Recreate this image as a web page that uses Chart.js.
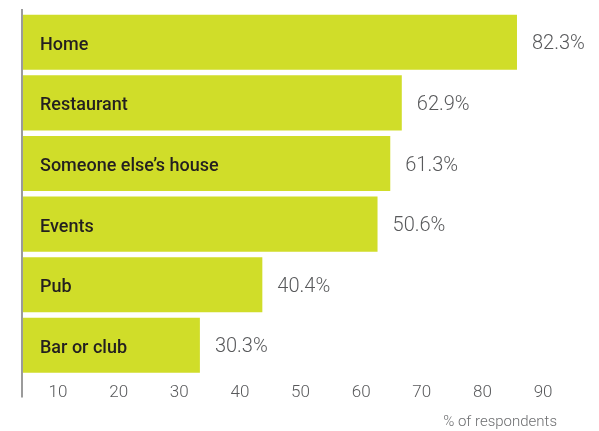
<!DOCTYPE html>
<html>
<head>
<meta charset="utf-8">
<script src="https://cdn.jsdelivr.net/npm/chart.js@4"></script>
<style>
    html, body { margin: 0; padding: 0; background: #ffffff; }
    canvas { display: block; }
</style>
</head>
<body>
<canvas id="placeChart" width="599" height="431"></canvas>
<script>
// Places where people drink - bar lengths read against the axis below
const categories = ["Home", "Restaurant", "Someone else\u2019s house", "Events", "Pub", "Bar or club"];
const barValues = [85.7, 66.7, 64.8, 62.7, 43.7, 33.4];
const valueLabels = ["82.3%", "62.9%", "61.3%", "50.6%", "40.4%", "30.3%"];
const tickValues = [10, 20, 30, 40, 50, 60, 70, 80, 90];
const axisTitle = "% of respondents";

const xMin = 4.06;
const xMax = 92.3;

// Draws category names inside bars, value labels after bars, and the left axis line
const barLabelsPlugin = {
    id: "barLabels",
    afterDatasetsDraw(chart) {
        const ctx = chart.ctx;
        const meta = chart.getDatasetMeta(0);
        const area = chart.chartArea;
        ctx.save();
        meta.data.forEach((bar, i) => {
            ctx.textBaseline = "middle";
            ctx.textAlign = "left";
            ctx.fillStyle = "#231f20";
            ctx.font = "500 18px Roboto";
            ctx.fillText(categories[i], area.left + 18, bar.y + 3);
            ctx.fillStyle = "#58595b";
            ctx.font = "300 20px Roboto";
            ctx.fillText(valueLabels[i], bar.x + 15, bar.y + 2);
        });
        // left axis line
        ctx.strokeStyle = "#9b9b9b";
        ctx.lineWidth = 2;
        ctx.beginPath();
        ctx.moveTo(area.left, area.top - 3);
        ctx.lineTo(area.left, area.bottom + 22);
        ctx.stroke();
        ctx.restore();
    }
};

const ctx = document.getElementById("placeChart").getContext("2d");
const placeChart = new Chart(ctx, {
    type: "bar",
    data: {
        labels: categories,
        datasets: [{
            data: barValues,
            base: xMin,
            backgroundColor: "#d0dd29",
            borderWidth: 0,
            barPercentage: 0.91,
            categoryPercentage: 1.0,
        }],
    },
    options: {
        indexAxis: "y",
        responsive: false,
        animation: false,
        layout: {
            padding: { left: 22, right: 42, top: 12, bottom: 0 },
        },
        plugins: {
            legend: { display: false },
            tooltip: { enabled: false },
        },
        scales: {
            y: {
                display: false,
            },
            x: {
                min: xMin,
                max: xMax,
                afterBuildTicks: (axis) => {
                    axis.ticks = tickValues.map((v) => ({ value: v }));
                },
                grid: { display: false, drawTicks: false },
                border: { display: false },
                ticks: {
                    padding: 7,
                    color: "#58595b",
                    font: { family: "Roboto", size: 17, weight: "300" },
                    callback: (value) => String(value),
                },
                title: {
                    display: true,
                    text: axisTitle,
                    align: "end",
                    color: "#6d6e70",
                    font: { family: "Roboto", size: 15, weight: "300" },
                    padding: { top: 3, bottom: 0 },
                },
            },
        },
    },
    plugins: [barLabelsPlugin],
});
</script>
</body>
</html>
